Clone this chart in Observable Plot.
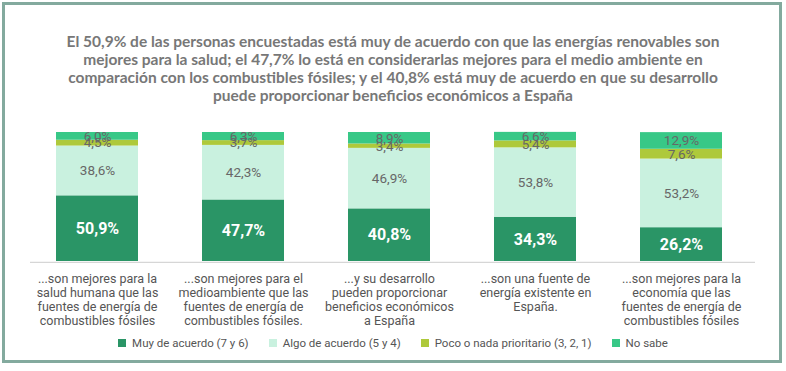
<!DOCTYPE html>
<html>
<head>
<meta charset="utf-8">
<script src="https://cdn.jsdelivr.net/npm/d3@7"></script>
<script src="https://cdn.jsdelivr.net/npm/@observablehq/plot@0.6"></script>
<style>
  html, body { margin: 0; padding: 0; background: #fff; }
  #page { position: relative; width: 786px; height: 371px; overflow: hidden; }
  #frame { position: absolute; left: 2px; top: 2px; width: 780px; height: 361px; box-sizing: border-box; border: 3px solid #83aa9e; }
  #title { position: absolute; left: 0; top: 32px; width: 786px; text-align: center; font: bold 15.5px Lato, sans-serif; line-height: 18px; color: #777; }
  #chart { position: absolute; left: 0; top: 120px; }
  #legend { position: absolute; left: 0; top: 336px; width: 786px; }
  .lg-swatches { font: 11.5px Roboto, sans-serif !important; color: #555 !important; justify-content: center !important; min-height: 0 !important; margin: 0 !important; }
  .lg-swatches .lg-swatch { margin-right: 20px !important; }
  .lg-swatches .lg-swatch:last-child { margin-right: 0 !important; }
  .lg-swatch > svg { margin-right: 6px !important; }
</style>
</head>
<body>
<div id="page">
  <div id="frame"></div>
  <div id="title"></div>
  <div id="chart"></div>
  <div id="legend"></div>
</div>
<script>
const titleLines = [
  "El 50,9% de las personas encuestadas está muy de acuerdo con que las energías renovables son",
  "mejores para la salud; el 47,7% lo está en considerarlas mejores para el medio ambiente en",
  "comparación con los combustibles fósiles; y el 40,8% está muy de acuerdo en que su desarrollo",
  "puede proporcionar beneficios económicos a España"
];
const categories = [
  "...son mejores para la\nsalud humana que las\nfuentes de energía de\ncombustibles fósiles",
  "...son mejores para el\nmedioambiente que las\nfuentes de energía de\ncombustibles fósiles.",
  "...y su desarrollo\npueden proporcionar\nbeneficios económicos\na España",
  "...son una fuente de\nenergía existente en\nEspaña.",
  "...son mejores para la\neconomía que las\nfuentes de energía de\ncombustibles fósiles"
];
const seriesNames = ["Muy de acuerdo (7 y 6)", "Algo de acuerdo (5 y 4)", "Poco o nada prioritario (3, 2, 1)", "No sabe"];
const seriesColors = ["#2a9566", "#c9f1df", "#aec93b", "#38c887"];
const muyDeAcuerdo = [50.9, 47.7, 40.8, 34.3, 26.2];
const algoDeAcuerdo = [38.6, 42.3, 46.9, 53.8, 53.2];
const pocoONada = [4.5, 3.7, 3.4, 5.4, 7.6];
const noSabe = [6.0, 6.3, 8.9, 6.6, 12.9];

document.getElementById("title").innerHTML = titleLines.join("<br>");

const seriesValues = [muyDeAcuerdo, algoDeAcuerdo, pocoONada, noSabe];
const data = [];
categories.forEach((c, i) => {
  seriesNames.forEach((s, j) => {
    data.push({cat: c, series: s, value: seriesValues[j][i]});
  });
});
const fmt = v => v.toFixed(1).replace(".", ",") + "%";

const chart = Plot.plot({
  width: 786,
  height: 210,
  marginTop: 12,
  marginBottom: 69,
  marginLeft: 30,
  marginRight: 31,
  style: {fontFamily: "Roboto, sans-serif", color: "#555", background: "transparent"},
  x: {domain: categories, range: [40.4, 737.3], paddingInner: 0.44, paddingOuter: 0.1, label: null},
  y: {domain: [0, 100], axis: null},
  color: {domain: seriesNames, range: seriesColors},
  marks: [
    Plot.barY(data, {x: "cat", y: "value", fill: "series", order: seriesNames}),
    Plot.ruleY([0], {stroke: "#d6d6d6", strokeWidth: 1.2, dy: 0.8}),
    Plot.text(data, Plot.stackY({
      x: "cat", y: "value", z: "series", order: seriesNames,
      text: d => d.series !== seriesNames[0] ? fmt(d.value) : "",
      fill: "#676767", fontSize: 13.5
    })),
    Plot.text(data, Plot.stackY({
      x: "cat", y: "value", z: "series", order: seriesNames,
      text: d => d.series === seriesNames[0] ? fmt(d.value) : "",
      fill: "white", fontSize: 16, fontWeight: "bold"
    })),
    Plot.axisX({tickSize: 0, tickPadding: 12, fontSize: 12.5, lineHeight: 1.12, fill: "#555", label: null})
  ]
});
document.getElementById("chart").appendChild(chart);

const legend = Plot.legend({
  color: {domain: seriesNames, range: seriesColors},
  legend: "swatches",
  swatchSize: 8,
  className: "lg"
});
document.getElementById("legend").appendChild(legend);
</script>
</body>
</html>
